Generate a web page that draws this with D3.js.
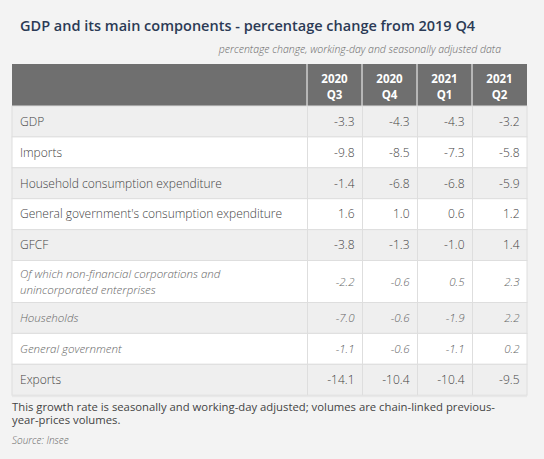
<!DOCTYPE html>
<html><head><meta charset="utf-8">
<script src="https://cdn.jsdelivr.net/npm/d3@7"></script>
<style>
html,body{margin:0;padding:0;background:#f3f3f3;}
svg{display:block;font-family:"Open Sans",sans-serif;}
</style></head><body>
<svg id="c" width="544" height="459"></svg>
<script>
const title = "GDP and its main components - percentage change from 2019 Q4";
const subtitle = "percentage change, working-day and seasonally adjusted data";
const columns = [["2020","Q3"],["2020","Q4"],["2021","Q1"],["2021","Q2"]];
const rowLabels = [
  ["GDP"],
  ["Imports"],
  ["Household consumption expenditure"],
  ["General government's consumption expenditure"],
  ["GFCF"],
  ["Of which non-financial corporations and","unincorporated enterprises"],
  ["Households"],
  ["General government"],
  ["Exports"]
];
const subRows = [5,6,7];
const q3_2020 = [-3.3,-9.8,-1.4,1.6,-3.8,-2.2,-7.0,-1.1,-14.1];
const q4_2020 = [-4.3,-8.5,-6.8,1.0,-1.3,-0.6,-0.6,-0.6,-10.4];
const q1_2021 = [-4.3,-7.3,-6.8,0.6,-1.0,0.5,-1.9,-1.1,-10.4];
const q2_2021 = [-3.2,-5.8,-5.9,1.2,1.4,2.3,2.2,0.2,-9.5];
const series = [q3_2020,q4_2020,q1_2021,q2_2021];
const footnote = ["This growth rate is seasonally and working-day adjusted; volumes are chain-linked previous-","year-prices volumes."];
const source = "Source: Insee";

const svg = d3.select("#c");
const left = 12, right = 527, labelW = 295, headTop = 64, headBot = 106;
const rowH = 30.9, tallH = 42;
const fmt = v => d3.format(".1f")(v).replace("\u2212","-");

const x = d3.scaleBand().domain(d3.range(columns.length)).range([left+labelW, right]).padding(0);

const heights = rowLabels.map(l => l.length>1 ? tallH : rowH);
const tops = [];
heights.reduce((acc,h,i)=>{tops.push(acc);return acc+h;}, headBot);
const tableBot = tops[tops.length-1]+heights[heights.length-1];

svg.append("text").attr("x",20).attr("y",30.5).attr("fill","#2b3a55")
  .attr("font-size",14.5).attr("font-weight",600).text(title);
svg.append("text").attr("x",501).attr("y",53).attr("text-anchor","end").attr("fill","#666")
  .attr("font-size",10.5).attr("font-style","italic").attr("font-weight",300).text(subtitle);

svg.append("rect").attr("x",left).attr("y",headTop).attr("width",right-left).attr("height",headBot-headTop).attr("fill","#6f6f6f");
const hg = svg.selectAll("g.hc").data(columns).join("g").attr("class","hc");
hg.append("text").attr("x",(d,i)=>x(i)+x.bandwidth()/2).attr("y",83).attr("text-anchor","middle")
  .attr("fill","#fff").attr("font-size",11.5).attr("font-weight",700).text(d=>d[0]);
hg.append("text").attr("x",(d,i)=>x(i)+x.bandwidth()/2).attr("y",99).attr("text-anchor","middle")
  .attr("fill","#fff").attr("font-size",11.5).attr("font-weight",700).text(d=>d[1]);
columns.forEach((c,i)=>{
  svg.append("line").attr("x1",x(i)).attr("x2",x(i)).attr("y1",headTop).attr("y2",headBot).attr("stroke","#fff").attr("stroke-width",1);
});

const rg = svg.selectAll("g.row").data(rowLabels).join("g").attr("class","row");
rg.append("rect").attr("x",left).attr("y",(d,i)=>tops[i]).attr("width",right-left).attr("height",(d,i)=>heights[i])
  .attr("fill",(d,i)=> i%2===0 ? "#efefef" : "#ffffff").attr("stroke","#dedede").attr("stroke-width",1);
rg.each(function(lbl,i){
  const g = d3.select(this);
  const it = subRows.includes(i);
  const cy = tops[i]+heights[i]/2;
  const n = lbl.length;
  lbl.forEach((t,k)=>{
    g.append("text").attr("x",20).attr("y",cy+4.3+(k-(n-1)/2)*16)
      .attr("font-size",it?11.5:12).attr("font-style",it?"italic":"normal").attr("font-weight",300)
      .attr("fill",it?"#666":"#444").text(t);
  });
  series.forEach((s,c)=>{
    g.append("text").attr("x",x(c)+x.bandwidth()-7.5).attr("y",cy+4.3).attr("text-anchor","end")
      .attr("font-size",it?11.5:12).attr("font-style",it?"italic":"normal").attr("font-weight",300)
      .attr("fill",it?"#666":"#444").text(fmt(s[i]));
  });
});
columns.forEach((c,i)=>{
  svg.append("line").attr("x1",x(i)+0.5).attr("x2",x(i)+0.5).attr("y1",headBot).attr("y2",tableBot).attr("stroke","#dedede");
});
svg.append("line").attr("x1",left).attr("x2",right).attr("y1",tableBot+1.5).attr("y2",tableBot+1.5).attr("stroke","#e6e6e6");

footnote.forEach((t,k)=>{
  svg.append("text").attr("x",12).attr("y",410.5+k*13.5).attr("font-size",11.3).attr("fill","#444").attr("font-weight",400).text(t);
});
svg.append("text").attr("x",12).attr("y",443.5).attr("font-size",10).attr("font-style","italic").attr("font-weight",300).attr("fill","#666").text(source);
</script></body></html>
